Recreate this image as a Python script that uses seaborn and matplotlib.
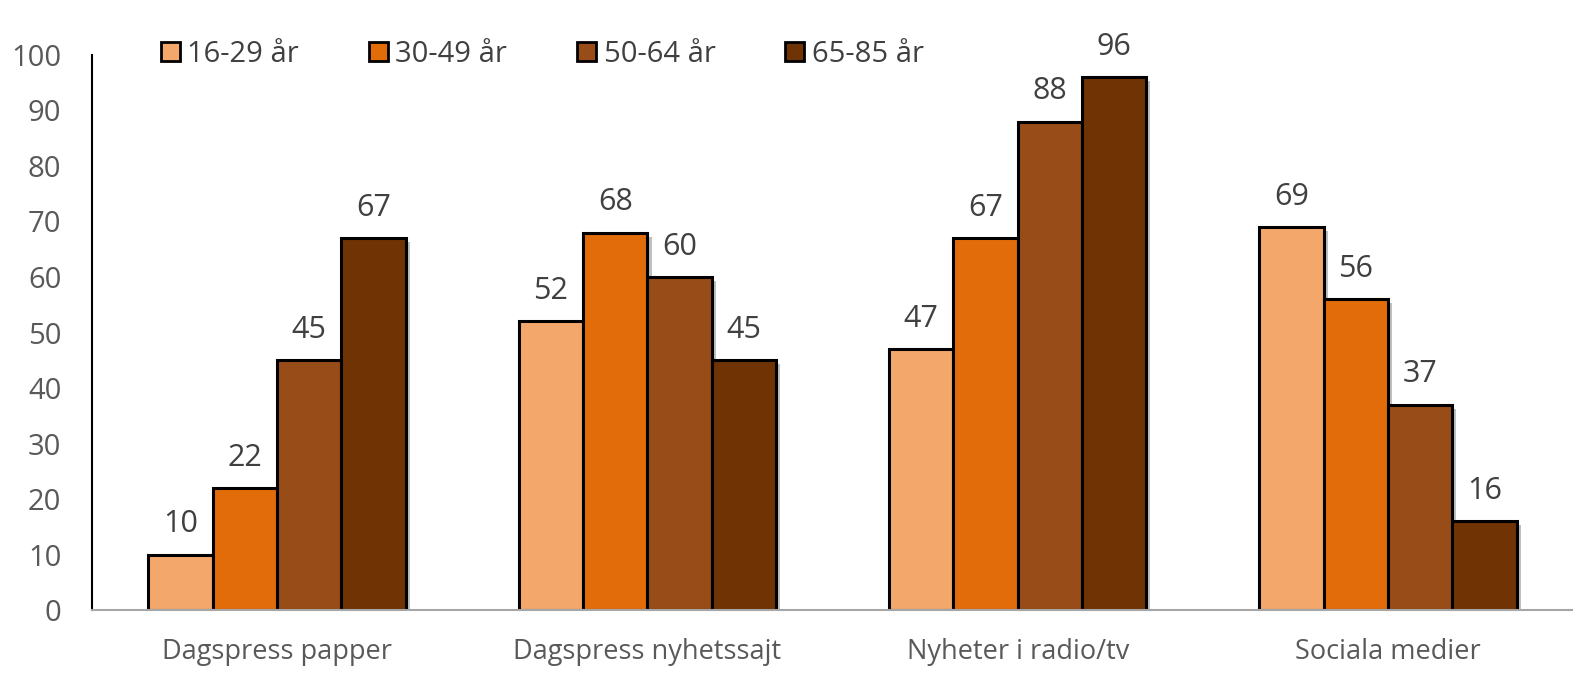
import matplotlib
matplotlib.use("Agg")
import matplotlib.pyplot as plt
import matplotlib.patheffects as pe
import seaborn as sns
import pandas as pd

categories = ["Dagspress papper", "Dagspress nyhetssajt", "Nyheter i radio/tv", "Sociala medier"]
groups = ["16-29 år", "30-49 år", "50-64 år", "65-85 år"]
v_16_29 = [10, 52, 47, 69]
v_30_49 = [22, 68, 67, 56]
v_50_64 = [45, 60, 88, 37]
v_65_85 = [67, 45, 96, 16]
colors = ["#F4A76A", "#E36C0A", "#984C18", "#6F3304"]
yticks = [0, 10, 20, 30, 40, 50, 60, 70, 80, 90, 100]

rows = []
for g, vals in zip(groups, [v_16_29, v_30_49, v_50_64, v_65_85]):
    for c, v in zip(categories, vals):
        rows.append({"cat": c, "grp": g, "val": v})
df = pd.DataFrame(rows)

sns.set_theme(style="white")
plt.rcParams["font.family"] = ["Open Sans", "DejaVu Sans"]

fig = plt.figure(figsize=(15.73, 6.87), dpi=100)
ax = fig.add_axes([0.0585, 0.112, 0.9415, 0.808])

sns.barplot(data=df, x="cat", y="val", hue="grp", palette=colors, order=categories,
            hue_order=groups, width=0.695, gap=0, ax=ax, edgecolor="black",
            linewidth=2.2, saturation=1, legend=True)

shadow = [pe.SimplePatchShadow(offset=(3, -3), shadow_rgbFace="black", alpha=0.25), pe.Normal()]
for cont in ax.containers:
    for p in cont.patches:
        p.set_path_effects(shadow)
    ax.bar_label(cont, padding=11, fontsize=22, color="#404040")

ax.set_xlim(-0.5, 3.5)
ax.set_ylim(0, 100)
ax.set_yticks(yticks)
ax.tick_params(axis="y", labelsize=21, labelcolor="#595959", length=0, pad=22)
ax.tick_params(axis="x", labelsize=19.5, labelcolor="#595959", length=0, pad=20)
ax.set_xlabel("")
ax.set_ylabel("")
for s in ["top", "right"]:
    ax.spines[s].set_visible(False)
ax.spines["left"].set_color("black")
ax.spines["left"].set_linewidth(1.5)
ax.spines["bottom"].set_color("#A6A6A6")
ax.spines["bottom"].set_linewidth(1.5)

leg = ax.legend(loc="upper left", bbox_to_anchor=(0.029, 1.075), ncol=4, frameon=False,
                fontsize=21, handlelength=0.65, handleheight=0.65, handletextpad=0.25,
                columnspacing=2.4, labelcolor="#404040")
for h in leg.legend_handles:
    h.set_path_effects([])
    h.set_linewidth(2)

fig.savefig("out.png", dpi=100)
